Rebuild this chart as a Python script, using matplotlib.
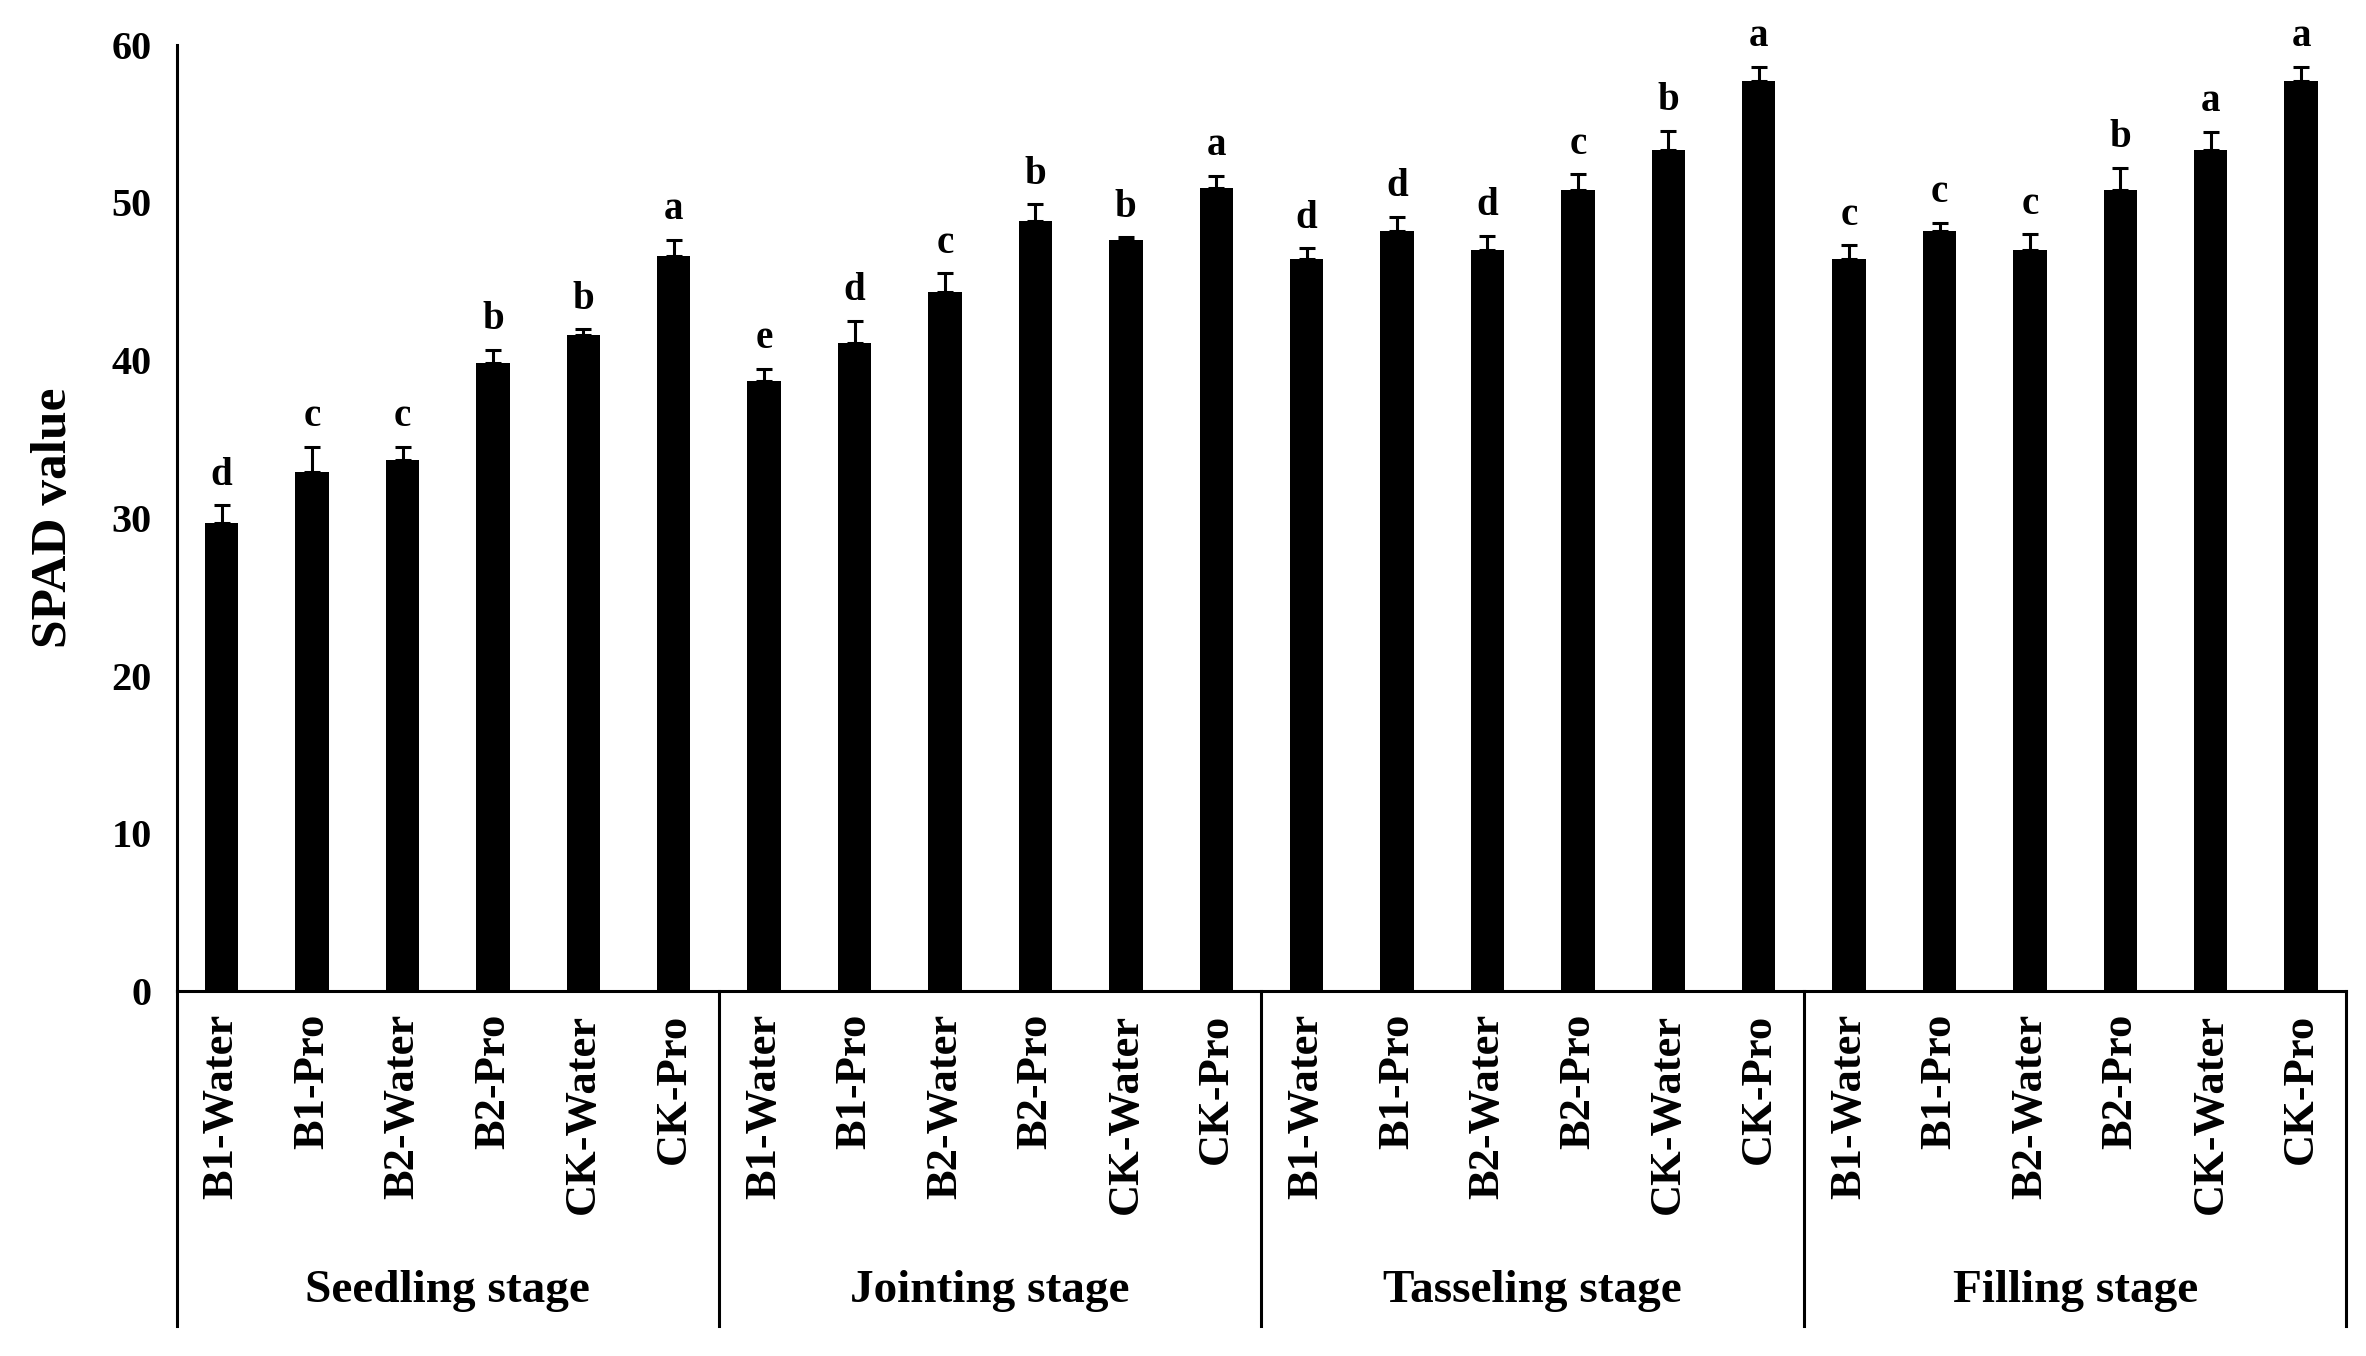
import numpy as np
import matplotlib
matplotlib.use("Agg")
import matplotlib.pyplot as plt
from matplotlib.transforms import blended_transform_factory

plt.rcParams['font.family'] = ['Liberation Serif', 'DejaVu Serif']
plt.rcParams['font.weight'] = 'bold'

stages = ['Seedling stage', 'Jointing stage', 'Tasseling stage', 'Filling stage']
treatments = ['B1-Water', 'B1-Pro', 'B2-Water', 'B2-Pro', 'CK-Water', 'CK-Pro']

spad = [29.7, 32.9, 33.7, 39.8, 41.6, 46.6,
        38.7, 41.1, 44.3, 48.8, 47.6, 50.9,
        46.4, 48.2, 47.0, 50.8, 53.3, 57.7,
        46.4, 48.2, 47.0, 50.8, 53.3, 57.7]
err = [1.1, 1.6, 0.8, 0.85, 0.35, 1.05,
       0.75, 1.4, 1.2, 1.1, 0.2, 0.8,
       0.7, 0.9, 0.9, 1.0, 1.25, 0.9,
       0.9, 0.5, 1.0, 1.4, 1.2, 0.9]
letters = ['d', 'c', 'c', 'b', 'b', 'a',
           'e', 'd', 'c', 'b', 'b', 'a',
           'd', 'd', 'd', 'c', 'b', 'a',
           'c', 'c', 'c', 'b', 'a', 'a']

x = np.arange(len(spad))
labels = treatments * len(stages)

fig = plt.figure(figsize=(23.66, 13.56), dpi=100)
ax = fig.add_axes([0.0746, 0.269, 0.9171, 0.698])

ax.bar(x, spad, width=0.37, color='black', zorder=2)
ax.errorbar(x, spad, yerr=[np.zeros(len(err)), err], fmt='none',
            ecolor='black', elinewidth=2.2, capsize=6, capthick=2.2, zorder=3)

for xi, v, e, l in zip(x, spad, err, letters):
    ax.text(xi, v + e + 1.3, l, ha='center', va='baseline', fontsize=28, fontweight='bold')

ax.set_xlim(-0.5, len(spad) - 0.5)
ax.set_ylim(0, 60)
ax.set_yticks(np.arange(0, 61, 10))
ax.tick_params(axis='y', length=0, pad=18, labelsize=29)
ax.set_xticks(x)
ax.set_xticklabels(labels, rotation=90, fontsize=32)
ax.tick_params(axis='x', length=0, pad=16)

for s in ['top', 'right']:
    ax.spines[s].set_visible(False)
for s in ['left', 'bottom']:
    ax.spines[s].set_linewidth(2.2)

ax.set_ylabel('SPAD value', fontsize=37, fontweight='bold')
ax.yaxis.set_label_coords(-0.046, 0.5)

# group separators and stage names
trans = blended_transform_factory(ax.transData, fig.transFigure)
for i in range(len(stages) + 1):
    xs = i * len(treatments) - 0.5
    ax.plot([xs, xs], [0.269, 0.022], transform=trans, color='black',
            lw=2.2, clip_on=False)
for i, st in enumerate(stages):
    xc = i * len(treatments) + (len(treatments) - 1) / 2
    ax.text(xc, 0.048, st, transform=trans, ha='center', va='center',
            fontsize=34, fontweight='bold')

fig.savefig('out.png', dpi=100, facecolor='white')
